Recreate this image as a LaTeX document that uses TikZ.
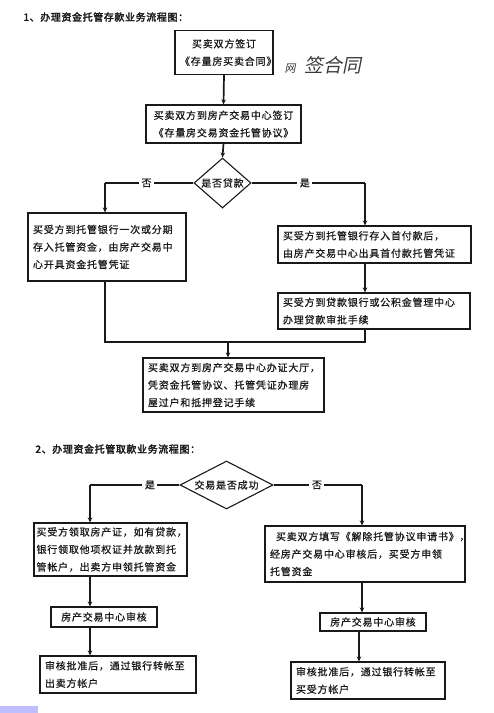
\documentclass[tikz,border=0pt]{standalone}
\usepackage{fontspec}
\setmainfont{Noto Sans CJK SC}[LetterSpace=8,FakeBold=0.6]
\newfontfamily\titlefont{Noto Sans CJK SC}[LetterSpace=6,FakeBold=2.5]
\newfontfamily\handfont{Noto Sans CJK SC}[FakeSlant=0.2]
\usetikzlibrary{arrows.meta,shapes.geometric}
\definecolor{ink}{RGB}{25,25,25}
\begin{document}
\begin{tikzpicture}[x=1pt,y=1pt,
  every node/.style={text=ink},
  box/.style={draw=ink, line width=1.1pt, inner xsep=5pt, inner ysep=2pt,
    align=left, font=\fontsize{10}{17.5}\selectfont},
  cbox/.style={box, align=center},
  dec/.style={diamond, draw=ink, line width=1.1pt, inner sep=0pt},
  conn/.style={draw=ink, line width=1.7pt, -{Stealth[length=5pt,width=4.5pt]}},
  line/.style={draw=ink, line width=1.3pt},
  lbl/.style={fill=white, inner sep=2.5pt, font=\fontsize{10}{12}\selectfont},
  ttl/.style={anchor=west, font=\titlefont\fontsize{10}{12}\selectfont}
]
\useasboundingbox (0,0) rectangle (494,-713);
\fill[white] (0,0) rectangle (494,-713);

% ---------- section 1 ----------
\node[ttl] (t1) at (20,-17) {1、办理资金托管存款业务流程图：};

\node[cbox, text width=88pt, minimum height=44pt] (A) at (224,-52.5)
  {买卖双方签订\\《存量房买卖合同》};
\node[anchor=west, font=\handfont\fontsize{19}{19}\selectfont, text=ink!85] (hw) at (281,-65)
  {{\fontsize{11}{11}\selectfont 网}\ \ 签合同};

\node[cbox, text width=145pt, minimum height=38pt] (B) at (223.5,-124)
  {买卖双方到房产交易中心签订\\《存量房交易资金托管协议》};

\node[dec, minimum width=57pt, minimum height=50pt,
  label={[font=\fontsize{10}{12}\selectfont]center:是否贷款}] (d1) at (222.5,-183) {};

\node[box, text width=148pt, minimum height=68pt] (C) at (107,-247)
  {买受方到托管银行一次或分期\\存入托管资金，由房产交易中\\心开具资金托管凭证};

\node[box, text width=183pt, minimum height=37pt] (D) at (374.5,-244.5)
  {买受方到托管银行存入首付款后，\\由房产交易中心出具首付款托管凭证};

\node[box, text width=182pt, minimum height=36pt] (E) at (374,-311)
  {买受方到贷款银行或公积金管理中心\\办理贷款审批手续};

\node[box, text width=171pt, minimum height=54pt] (F) at (233.5,-385)
  {买卖双方到房产交易中心办证大厅，\\凭资金托管协议、托管凭证办理房\\屋过户和抵押登记手续};

\coordinate (c1) at (105,-183);
\coordinate (c2) at (365,-183);
\coordinate (mL) at (105,-342);
\coordinate (mR) at (365,-342);
\coordinate (mF) at (228,-342);

\draw[conn] (A.south) -- (B.north);
\draw[conn] (B.south) -- (d1.north);
\draw[line] (d1.west) -- node[lbl, pos=0.53]{否} (c1);
\draw[conn] (c1) -- (c1 |- C.north);
\draw[line] (d1.east) -- node[lbl, pos=0.47]{是} (c2);
\draw[conn] (c2) -- (c2 |- D.north);
\draw[conn] (D.south -| c2) -- (E.north -| c2);
\draw[line] (C.south -| mL) -- (mL) -- (mR) -- (E.south -| mR);
\draw[conn] (mF) -- (mF |- F.north);

% ---------- section 2 ----------
\node[ttl] (t2) at (32,-449) {2、办理资金托管取款业务流程图：};

\node[dec, minimum width=93pt, minimum height=48pt,
  label={[font=\fontsize{10}{12}\selectfont]center:交易是否成功}] (d2) at (226.5,-485) {};

\node[box, inner xsep=2.5pt, text width=148pt, minimum height=53pt] (G) at (110.5,-549.5)
  {买受方领取房产证，如有贷款，\\银行领取他项权证并放款到托\\管帐户，出卖方申领托管资金};
\node[cbox, text width=96pt, minimum height=20pt] (H) at (104,-617)
  {房产交易中心审核};
\node[box, text width=146pt, minimum height=37pt] (I) at (118,-674.5)
  {审核批准后，通过银行转帐至\\出卖方帐户};

\node[box, text width=190pt, minimum height=56pt] (J) at (365,-554)
  {\hspace*{6pt}买卖双方填写《解除托管协议申请书》，\\经房产交易中心审核后，买受方申领\\托管资金};
\node[cbox, text width=96pt, minimum height=18pt] (K) at (373,-622)
  {房产交易中心审核};
\node[box, text width=144pt, minimum height=37pt] (L) at (368,-680.5)
  {审核批准后，通过银行转帐至\\买受方帐户};

\coordinate (e1) at (90,-485);
\coordinate (e2) at (362,-485);
\coordinate (e3) at (359,-600);

\draw[line] (d2.west) -- node[lbl, pos=0.33]{是} (e1);
\draw[conn] (e1) -- (e1 |- G.north);
\draw[line] (d2.east) -- node[lbl, pos=0.49]{否} (e2);
\draw[conn] (e2) -- (e2 |- J.north);
\draw[conn] (G.south -| e1) -- (H.north -| e1);
\draw[conn] (H.south -| e1) -- (I.north -| e1);
\draw[conn] (J.south -| e2) -- (K.north -| e2);
\draw[conn] (K.south -| e3) -- (L.north -| e3);

% screen artefact at the bottom left
\fill[blue!25] (0,-706) rectangle (38,-713);
\end{tikzpicture}
\end{document}
